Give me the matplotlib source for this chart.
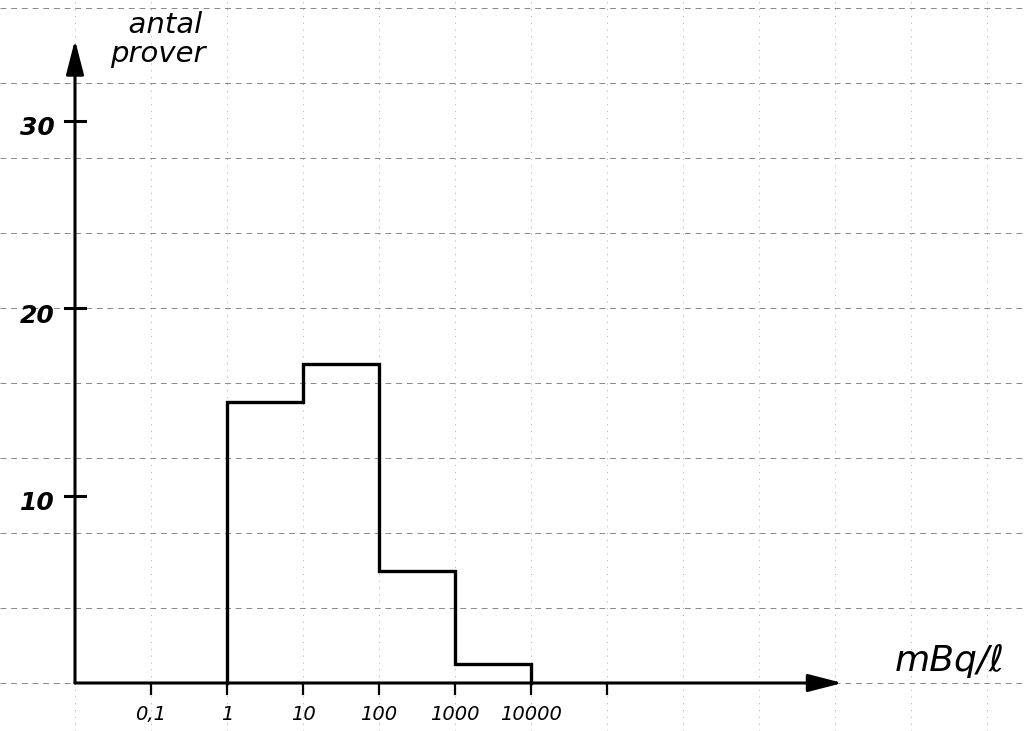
import matplotlib
matplotlib.use("Agg")
import matplotlib.pyplot as plt
import numpy as np

# data
bin_edges = [1, 10, 100, 1000, 10000]
counts = [15, 17, 6, 1]
xtick_vals = [0.1, 1, 10, 100, 1000, 10000, 100000]
xtick_labels = ["0,1", "1", "10", "100", "1000", "10000", ""]
ytick_vals = [10, 20, 30]
ytick_labels = ["10", "20", "30"]

fig = plt.figure(figsize=(10.27, 7.31), dpi=100)
ax = fig.add_axes([0, 0, 1, 1])
ax.set_xscale("log")
px_dec = 76.0
px_unit = 18.75
x0_px, y0_px = 75, 683
xmin = 10 ** (-2 - x0_px / px_dec)
xmax = 10 ** (-2 + (1027 - x0_px) / px_dec)
ymin = -(731 - y0_px) / px_unit
ymax = y0_px / px_unit
ax.set_xlim(xmin, xmax)
ax.set_ylim(ymin, ymax)
for s in ax.spines.values():
    s.set_visible(False)
ax.set_xticks([]); ax.set_yticks([])
ax.minorticks_off()

# graph paper grid
for k in range(-3, 11):
    ax.axvline(10.0 ** k, color="#aaaaaa", lw=0.7, ls=(0, (1, 6)), zorder=0)
for yv in range(0, 40, 4):
    ax.axhline(yv, color="#888888", lw=0.7, ls=(0, (6, 5)), zorder=0)

# axes arrows
xa0 = 0.01
style = "-|>,head_length=0.7,head_width=0.18"
ax.annotate("", xy=(10 ** 8.1, 0), xytext=(xa0, 0),
            arrowprops=dict(arrowstyle=style, color="black", lw=2.2,
                            mutation_scale=30, shrinkA=0, shrinkB=0))
ax.annotate("", xy=(xa0, 34.3), xytext=(xa0, 0),
            arrowprops=dict(arrowstyle=style, color="black", lw=2.2,
                            mutation_scale=30, shrinkA=0, shrinkB=0))

# y ticks (crosses)
fx = 10 ** (10 / px_dec)
for v, lab in zip(ytick_vals, ytick_labels):
    ax.plot([xa0 / fx, xa0 * fx], [v, v], color="black", lw=2.2)
    ax.text(xa0 / 10 ** (20 / px_dec), v - 0.4, lab, ha="right", va="center",
            fontsize=18, style="italic", fontweight="bold")

# x ticks
for v, lab in zip(xtick_vals, xtick_labels):
    ax.plot([v, v], [0, -0.6], color="black", lw=1.6)
    ax.text(v, -1.7, lab, ha="center", va="center", fontsize=14, style="italic")

# histogram outline
xs = [bin_edges[0]]
ys = [0]
for i, c in enumerate(counts):
    xs += [bin_edges[i], bin_edges[i + 1]]
    ys += [c, c]
xs.append(bin_edges[-1]); ys.append(0)
ax.plot(xs, ys, color="black", lw=2.4, solid_joinstyle="miter")

# labels
ax.text(10 ** (-2 + 35 / px_dec), ymax - 0.6, "  antal\nprover", ha="left", va="top",
        fontsize=21, style="italic", linespacing=1.05)
ax.text(10 ** (-2 + 875 / px_dec), 1.2, "mBq/ℓ", ha="center", va="center",
        fontsize=26, style="italic")

fig.savefig("out.png", dpi=100)
